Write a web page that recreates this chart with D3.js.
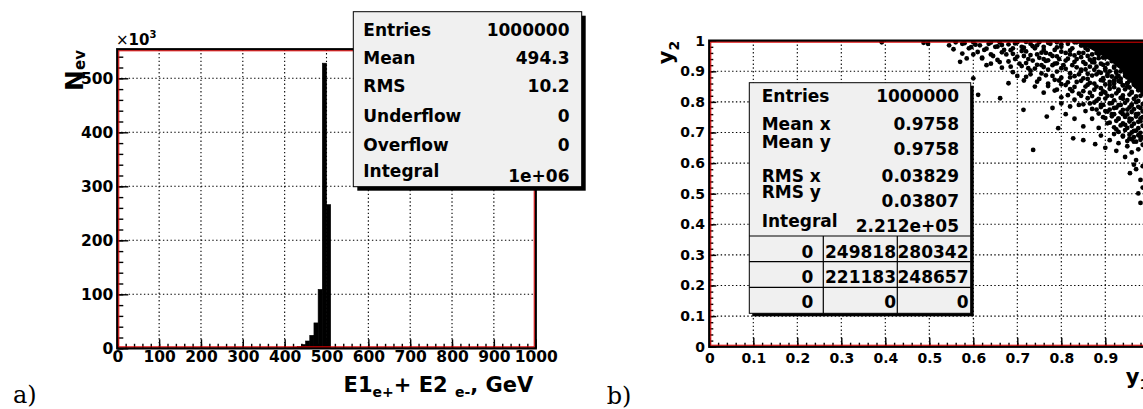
<!DOCTYPE html>
<html><head><meta charset="utf-8">
<script src="https://cdn.jsdelivr.net/npm/d3@7"></script>
<style>
body{margin:0;background:#fff}
svg{display:block}
text{white-space:pre}
</style>
</head><body><svg id="c" width="1143" height="409" font-family="DejaVu Sans" font-weight="bold"></svg>
<script>
// ---------- data: panel a (histogram, counts in units of 10^3) ----------
const histEdges  = [400,410,420,430,440,450,460,470,480,490,500,510];
const histCounts = [0.4,0.8,1.5,3,7,13.5,24,47,109,528,266];
const xTicksA = [0,100,200,300,400,500,600,700,800,900,1000];
const yTicksA = [0,100,200,300,400,500];
const statsALabels = ["Entries","Mean","RMS","Underflow","Overflow","Integral"];
const statsAValues = ["1000000","494.3","10.2","0","0","1e+06"];

// ---------- data: panel b (scatter y1 vs y2) ----------
const xTicksB = [0,0.1,0.2,0.3,0.4,0.5,0.6,0.7,0.8,0.9,1];
const yTicksB = [0,0.1,0.2,0.3,0.4,0.5,0.6,0.7,0.8,0.9,1];
const statsBLabels = ["Entries","Mean x","Mean y","RMS x","RMS y","Integral"];
const statsBValues = ["1000000","0.9758","0.9758","0.03829","0.03807","2.212e+05"];
const tableB = [["0","249818","280342"],["0","221183","248657"],["0","0","0"]];
// saturated (fully black) core of the point cloud
const scatterCore = [[0.82,1.0],[0.85,0.985],[0.88,0.962],[0.91,0.935],[0.935,0.905],[0.955,0.875],[0.975,0.84],[0.99,0.81],[1.0,0.79],[1.0,1.0]];
// individual visible points
const scatterPts = [
 [0.392,0.995],[0.487,0.993],[0.497,0.99],[0.545,0.985],[0.56,0.995],[0.575,0.99],[0.59,0.975],[0.60,0.995],[0.615,0.985],[0.625,0.97],[0.635,0.99],[0.65,0.98],[0.66,0.995],[0.67,0.97],[0.68,0.988],[0.69,0.975],[0.70,0.995],[0.71,0.98],[0.72,0.965],[0.73,0.99],[0.74,0.975],[0.75,0.995],[0.76,0.98],[0.765,0.96],[0.775,0.99],[0.785,0.97],[0.79,0.995],[0.80,0.98],[0.81,0.96],[0.815,0.99],[0.825,0.975],[0.835,0.995],[0.84,0.96],[0.85,0.985],[0.86,0.97],
 [0.57,0.931],[0.585,0.942],[0.60,0.955],[0.62,0.945],[0.63,0.92],[0.645,0.95],[0.66,0.93],[0.675,0.955],[0.685,0.915],[0.695,0.94],[0.705,0.925],[0.715,0.95],[0.725,0.91],[0.735,0.935],[0.745,0.955],[0.755,0.92],[0.76,0.94],[0.77,0.905],[0.78,0.95],[0.785,0.925],[0.795,0.94],[0.80,0.91],[0.81,0.935],[0.82,0.955],[0.825,0.92],[0.835,0.94],[0.845,0.905],[0.85,0.93],[0.86,0.95],[0.865,0.915],[0.875,0.94],[0.88,0.96],[0.89,0.925],[0.895,0.945],[0.9,0.91],
 [0.60,0.877],[0.611,0.823],[0.661,0.812],[0.68,0.861],[0.70,0.885],[0.715,0.87],[0.73,0.89],[0.74,0.85],[0.75,0.875],[0.76,0.83],[0.77,0.86],[0.78,0.885],[0.79,0.84],[0.795,0.87],[0.80,0.815],[0.81,0.855],[0.82,0.88],[0.825,0.835],[0.835,0.865],[0.84,0.89],[0.845,0.82],[0.855,0.85],[0.86,0.875],[0.865,0.83],[0.875,0.86],[0.88,0.89],[0.885,0.81],[0.89,0.845],[0.895,0.87],[0.9,0.83],[0.905,0.885],[0.91,0.855],[0.915,0.82],[0.92,0.87],[0.925,0.895],[0.93,0.84],[0.935,0.865],[0.94,0.81],[0.945,0.885],[0.95,0.85],[0.955,0.87],[0.96,0.83],[0.965,0.86],[0.97,0.88],[0.975,0.845],[0.98,0.82],
 [0.714,0.774],[0.767,0.752],[0.793,0.714],[0.78,0.78],[0.80,0.795],[0.81,0.76],[0.82,0.785],[0.83,0.745],[0.84,0.79],[0.85,0.72],[0.855,0.77],[0.865,0.795],[0.87,0.745],[0.88,0.775],[0.885,0.715],[0.89,0.79],[0.895,0.75],[0.90,0.77],[0.905,0.73],[0.91,0.795],[0.915,0.76],[0.92,0.78],[0.925,0.71],[0.93,0.745],[0.935,0.79],[0.94,0.76],[0.945,0.725],[0.95,0.775],[0.955,0.745],[0.96,0.79],[0.965,0.705],[0.97,0.76],[0.975,0.735],[0.98,0.78],[0.985,0.75],
 [0.736,0.643],[0.827,0.681],[0.85,0.675],[0.877,0.662],[0.89,0.69],[0.90,0.65],[0.91,0.675],[0.92,0.695],[0.925,0.64],[0.93,0.665],[0.94,0.69],[0.945,0.62],[0.95,0.655],[0.955,0.68],[0.96,0.635],[0.965,0.67],[0.97,0.61],[0.975,0.645],[0.98,0.685],[0.985,0.66],
 [0.956,0.567],[0.975,0.501],[0.97,0.58],[0.98,0.545],[0.985,0.59],[0.965,0.595],[0.985,0.52],[0.98,0.47],
 [0.87,0.93],[0.875,0.905],[0.885,0.955],[0.89,0.895],[0.9,0.945],[0.905,0.925],[0.91,0.9],[0.915,0.94],[0.92,0.915],[0.925,0.88],[0.93,0.92],[0.935,0.9],[0.94,0.93],[0.945,0.905],[0.95,0.88],[0.955,0.915],[0.96,0.895],[0.965,0.92],[0.97,0.9],[0.975,0.875],[0.98,0.86],[0.985,0.89],[0.99,0.87],[0.96,0.87],[0.97,0.85],[0.985,0.84],[0.95,0.86],[0.94,0.855],[0.93,0.885],[0.92,0.86],
 [0.58,0.992],[0.605,0.987],[0.64,0.994],[0.665,0.986],[0.695,0.991],[0.72,0.996],[0.745,0.985],[0.77,0.993],[0.80,0.988],[0.83,0.995],[0.845,0.984],
 [0.555,0.972],[0.595,0.979],[0.63,0.974],[0.655,0.981],[0.685,0.969],[0.715,0.977],[0.735,0.982],[0.76,0.97],[0.79,0.978],[0.82,0.968],[0.855,0.976],[0.87,0.985],
 [0.575,0.958],[0.61,0.963],[0.64,0.955],[0.665,0.962],[0.69,0.957],[0.71,0.966],[0.73,0.953],[0.755,0.961],[0.775,0.956],[0.80,0.964],[0.83,0.952],[0.85,0.96],[0.87,0.955],[0.89,0.962],
 [0.62,0.942],[0.655,0.937],[0.70,0.948],[0.725,0.94],[0.75,0.944],[0.77,0.936],[0.79,0.949],[0.815,0.941],[0.845,0.946],[0.865,0.938],[0.885,0.943],[0.905,0.95],
 [0.64,0.925],[0.68,0.932],[0.72,0.927],[0.745,0.921],[0.765,0.934],[0.79,0.926],[0.805,0.92],[0.83,0.931],[0.855,0.924],[0.875,0.929],[0.895,0.921],[0.915,0.933],
 [0.665,0.912],[0.71,0.917],[0.74,0.909],[0.76,0.914],[0.78,0.92],[0.81,0.908],[0.835,0.913],[0.855,0.906],[0.88,0.915],[0.9,0.903],[0.92,0.912],[0.94,0.918],
 [0.69,0.897],[0.73,0.902],[0.755,0.893],[0.79,0.899],[0.82,0.894],[0.845,0.901],[0.86,0.892],[0.885,0.898],[0.905,0.891],[0.925,0.9],[0.945,0.894],
 [0.72,0.882],[0.765,0.887],[0.80,0.879],[0.83,0.884],[0.85,0.877],[0.87,0.886],[0.895,0.878],[0.915,0.883],[0.935,0.876],[0.955,0.888],[0.965,0.88],
 [0.745,0.866],[0.785,0.872],[0.815,0.864],[0.845,0.869],[0.865,0.862],[0.89,0.871],[0.91,0.865],[0.93,0.868],[0.95,0.861],[0.97,0.867],[0.98,0.873],
 [0.77,0.852],[0.80,0.858],[0.83,0.849],[0.86,0.856],[0.88,0.85],[0.9,0.857],[0.92,0.848],[0.94,0.854],[0.955,0.847],[0.965,0.856],[0.975,0.851],
 [0.785,0.837],[0.82,0.842],[0.85,0.835],[0.875,0.84],[0.895,0.834],[0.91,0.843],[0.93,0.836],[0.945,0.841],[0.96,0.833],[0.975,0.838],
 [0.815,0.822],[0.84,0.827],[0.87,0.819],[0.89,0.826],[0.905,0.82],[0.925,0.828],[0.94,0.821],[0.955,0.824],[0.97,0.818],[0.985,0.826],
 [0.83,0.807],[0.86,0.812],[0.88,0.804],[0.9,0.811],[0.92,0.805],[0.935,0.813],[0.95,0.806],[0.965,0.81],[0.975,0.803],
 [0.85,0.792],[0.875,0.798],[0.895,0.79],[0.915,0.796],[0.93,0.789],[0.945,0.797],[0.96,0.791],[0.97,0.799],[0.985,0.793],
 [0.87,0.777],[0.89,0.783],[0.91,0.775],[0.925,0.781],[0.94,0.774],[0.955,0.782],[0.965,0.776],[0.975,0.784],
 [0.885,0.762],[0.905,0.768],[0.92,0.76],[0.935,0.766],[0.95,0.759],[0.96,0.767],[0.975,0.761],[0.985,0.769],
 [0.9,0.747],[0.915,0.753],[0.93,0.745],[0.945,0.751],[0.96,0.744],[0.97,0.752],[0.98,0.746],
 [0.91,0.732],[0.925,0.738],[0.94,0.73],[0.955,0.736],[0.965,0.729],[0.98,0.737],
 [0.92,0.717],[0.935,0.723],[0.95,0.715],[0.96,0.721],[0.975,0.714],[0.985,0.722],
 [0.93,0.702],[0.945,0.708],[0.96,0.7],[0.97,0.706],[0.98,0.699],
 [0.94,0.687],[0.955,0.693],[0.965,0.685],[0.975,0.691],[0.985,0.684],
 [0.95,0.672],[0.96,0.678],[0.97,0.67],[0.98,0.676],
 [0.86,0.99],[0.875,0.975],[0.89,0.97],[0.9,0.985],[0.905,0.96],[0.915,0.975],[0.925,0.95],[0.935,0.965],[0.94,0.94],[0.95,0.955],[0.955,0.93],[0.965,0.945],[0.97,0.92],[0.98,0.93],[0.985,0.905],[0.99,0.915],[0.975,0.895],[0.96,0.905],[0.95,0.925],[0.93,0.945],[0.91,0.955],[0.895,0.965],[0.88,0.98],[0.99,0.88],[0.985,0.86],[0.99,0.845]
];

const svg = d3.select("#c");
svg.append("rect").attr("width",1143).attr("height",409).attr("fill","#fff");

function minorTicks(lo, hi, step){ return d3.range(Math.round((hi-lo)/step)+1).map(i=>+(lo+i*step).toFixed(6)); }

function frame(g, x, y, o){
  const [X0,X1] = x.range(), [Y1,Y0] = y.range();
  const grid = g.append("g").attr("stroke","#000").attr("stroke-width",1.1).attr("stroke-dasharray","1.4,2.4");
  grid.selectAll("line.gx").data(o.xTicks.slice(1,-1)).join("line")
    .attr("x1",d=>x(d)).attr("x2",d=>x(d)).attr("y1",Y0).attr("y2",Y1);
  grid.selectAll("line.gy").data(o.yTicks.filter(d=>d>0 && y(d)>Y0+2)).join("line")
    .attr("y1",d=>y(d)).attr("y2",d=>y(d)).attr("x1",X0).attr("x2",X1);
}

function axes(g, x, y, o){
  const [X0,X1] = x.range(), [Y1,Y0] = y.range();
  const ax = g.append("g").attr("transform",`translate(0,${Y1})`)
    .call(d3.axisBottom(x).tickValues(o.xTicks).tickSizeInner(-o.xMaj).tickSizeOuter(0).tickPadding(o.xPad).tickFormat(d=>String(d)));
  const axm = g.append("g").attr("transform",`translate(0,${Y1})`)
    .call(d3.axisBottom(x).tickValues(o.xMinor).tickSizeInner(-o.xMin).tickSizeOuter(0).tickFormat(""));
  const ay = g.append("g").attr("transform",`translate(${X0},0)`)
    .call(d3.axisLeft(y).tickValues(o.yTicks).tickSizeInner(-o.yMaj).tickSizeOuter(0).tickPadding(o.yPad).tickFormat(d=>String(d)));
  const aym = g.append("g").attr("transform",`translate(${X0},0)`)
    .call(d3.axisLeft(y).tickValues(o.yMinor).tickSizeInner(-o.yMin).tickSizeOuter(0).tickFormat(""));
  [ax,axm,ay,aym].forEach(a=>{
    a.attr("font-family","DejaVu Sans").attr("font-size",o.fs);
    a.select(".domain").remove();
    a.selectAll("line").attr("stroke","#000").attr("stroke-width",1.4);
    a.selectAll("text").attr("font-weight","bold").attr("font-size",o.fs).attr("fill","#000");
  });
  g.append("rect").attr("x",X0).attr("y",Y0).attr("width",X1-X0).attr("height",Y1-Y0)
    .attr("fill","none").attr("stroke","#000").attr("stroke-width",2.4);
  g.append("rect").attr("x",X0+1.5).attr("y",Y0+1.5).attr("width",X1-X0-3).attr("height",Y1-Y0-3)
    .attr("fill","none").attr("stroke","#e00000").attr("stroke-width",1);
}

function statsBox(g, x0, y0, x1, y1, sh){
  g.append("rect").attr("x",x0+sh).attr("y",y0+sh).attr("width",x1-x0).attr("height",y1-y0).attr("fill","#000");
  g.append("rect").attr("x",x0).attr("y",y0).attr("width",x1-x0).attr("height",y1-y0)
    .attr("fill","#f0f0f0").attr("stroke","#000").attr("stroke-width",1);
}

// ================= panel a =================
const gA = svg.append("g");
const xA = d3.scaleLinear().domain([0,1000]).range([117.3,535.7]);
const yA = d3.scaleLinear().domain([0,553.7]).range([348.3,49.3]);
frame(gA, xA, yA, {xTicks:xTicksA, yTicks:yTicksA});
gA.append("g").selectAll("rect").data(histCounts).join("rect")
  .attr("x",(d,i)=>xA(histEdges[i])).attr("width",(d,i)=>xA(histEdges[i+1])-xA(histEdges[i]))
  .attr("y",d=>yA(d)).attr("height",d=>yA(0)-yA(d)).attr("fill","#000")
  .attr("stroke","#000").attr("stroke-width",0.6);
axes(gA, xA, yA, {xTicks:xTicksA, yTicks:yTicksA, xMinor:minorTicks(0,1000,20), yMinor:minorTicks(0,540,20),
  xMaj:9, xMin:4.5, yMaj:11, yMin:6, xPad:2.8, yPad:4, fs:15.5});

const e3 = gA.append("text").attr("x",116).attr("y",45).attr("font-size",15);
e3.append("tspan").attr("font-weight","normal").text("×");
e3.append("tspan").text("10");
e3.append("tspan").attr("font-size",10).attr("dy",-7).text("3");
const tA = gA.append("text").attr("x",533.3).attr("y",391.7).attr("text-anchor","end").attr("font-size",21);
tA.append("tspan").text("E1");
tA.append("tspan").attr("font-size",14).attr("dy",5).text("e+");
tA.append("tspan").attr("dy",-5).text("+ E2 ");
tA.append("tspan").attr("font-size",14).attr("dy",5).text("e-");
tA.append("tspan").attr("dy",-5).text(", GeV");
const nA = gA.append("text").attr("transform","translate(83.3,50) rotate(-90)").attr("text-anchor","end").attr("font-size",25);
nA.append("tspan").text("N");
nA.append("tspan").attr("font-size",15).attr("dy",2).text("ev");

statsBox(gA, 353.3, 11.7, 581.7, 186.7, 4);
const ysA = [35.7,64.3,92.3,122.3,150.7,176.7], yvA = [35.7,64.3,92.3,122.3,150.7,181.7];
gA.append("g").selectAll("text").data(statsALabels).join("text")
  .attr("x",363.3).attr("y",(d,i)=>ysA[i]).attr("font-size",17).text(d=>d);
gA.append("g").selectAll("text").data(statsAValues).join("text")
  .attr("x",569.5).attr("y",(d,i)=>yvA[i]).attr("font-size",17).attr("text-anchor","end").text(d=>d);

svg.append("text").attr("x",13).attr("y",403.3).attr("font-family","DejaVu Serif").attr("font-weight","normal")
  .attr("font-size",24).text("a)");

// ================= panel b =================
const gB = svg.append("g");
const xB = d3.scaleLinear().domain([0,1]).range([709.3,1149.3]);
const yB = d3.scaleLinear().domain([0,1]).range([346.7,40.7]);
frame(gB, xB, yB, {xTicks:xTicksB, yTicks:yTicksB});
svg.append("clipPath").attr("id","clipB").append("rect")
  .attr("x",709.3).attr("y",40.7).attr("width",440).attr("height",306);
const cloud = gB.append("g").attr("clip-path","url(#clipB)");
cloud.append("path").datum(scatterCore)
  .attr("d",d3.line().x(d=>xB(d[0])).y(d=>yB(d[1])).curve(d3.curveLinearClosed))
  .attr("fill","#000");
cloud.selectAll("circle").data(scatterPts).join("circle")
  .attr("cx",d=>xB(d[0])).attr("cy",d=>yB(d[1])).attr("r",2.4).attr("fill","#000");
axes(gB, xB, yB, {xTicks:xTicksB, yTicks:yTicksB, xMinor:minorTicks(0,1,0.02), yMinor:minorTicks(0,1,0.02),
  xMaj:9, xMin:4, yMaj:7, yMin:4, xPad:6.7, yPad:4.3, fs:14});

const tB = gB.append("text").attr("x",1149.3).attr("y",384).attr("text-anchor","end").attr("font-size",21);
tB.append("tspan").text("y");
tB.append("tspan").attr("font-size",14).attr("dy",5).text("1");
const nB = gB.append("text").attr("transform","translate(673,40.7) rotate(-90)").attr("text-anchor","end").attr("font-size",21);
nB.append("tspan").text("y");
nB.append("tspan").attr("font-size",14).attr("dy",6).text("2");

statsBox(gB, 749.3, 82.7, 970.7, 313.3, 3);
const ysB = [101.7,130,148.3,181.7,198.3,226.7], yvB = [101.7,130,155.3,181.7,207.3,231.7];
gB.append("g").selectAll("text").data(statsBLabels).join("text")
  .attr("x",761.7).attr("y",(d,i)=>ysB[i]).attr("font-size",17).text(d=>d);
gB.append("g").selectAll("text").data(statsBValues).join("text")
  .attr("x",959).attr("y",(d,i)=>yvB[i]).attr("font-size",17).attr("text-anchor","end").text(d=>d);
const rowLines = [236,261.7,287.3], colLines = [823.3,897.3];
gB.append("g").selectAll("line").data(rowLines).join("line")
  .attr("x1",749.3).attr("x2",970.7).attr("y1",d=>d).attr("y2",d=>d).attr("stroke","#000").attr("stroke-width",1.2);
gB.append("g").selectAll("line").data(colLines).join("line")
  .attr("x1",d=>d).attr("x2",d=>d).attr("y1",236).attr("y2",313.3).attr("stroke","#000").attr("stroke-width",1.2);
const colRight = [813.3,896,968.5], rowBase = [258.3,283.3,308.3];
tableB.forEach((row,r)=>{
  gB.append("g").selectAll("text").data(row).join("text")
    .attr("x",(d,c)=>colRight[c]).attr("y",rowBase[r]).attr("font-size",17).attr("text-anchor","end").text(d=>d);
});

svg.append("text").attr("x",606.7).attr("y",404).attr("font-family","DejaVu Serif").attr("font-weight","normal")
  .attr("font-size",24).text("b)");
</script></body></html>
